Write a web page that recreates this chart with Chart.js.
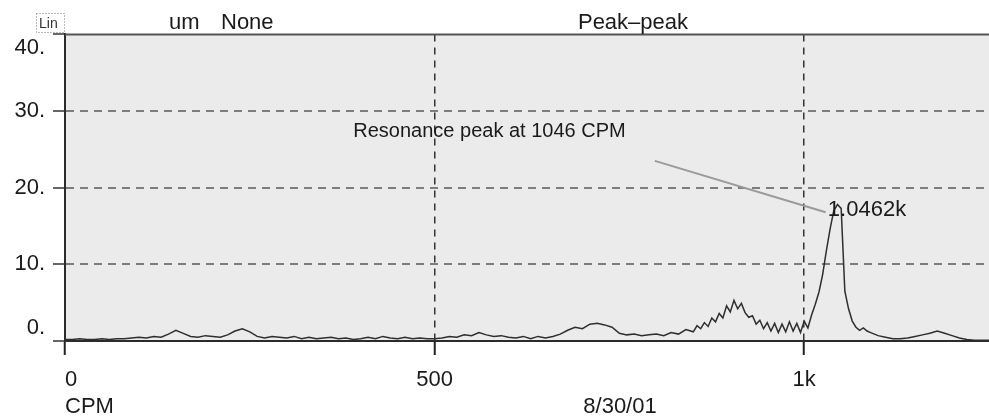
<!DOCTYPE html>
<html>
<head>
<meta charset="utf-8">
<script src="https://cdn.jsdelivr.net/npm/chart.js@4/dist/chart.umd.min.js"></script>
<style>
html, body { margin: 0; padding: 0; background: #fff; }
#wrap { width: 989px; height: 418px; }
</style>
</head>
<body>
<div id="wrap"><canvas id="spectrumChart" width="989" height="418"></canvas></div>
<script>
// spectrum values (CPM -> um peak-peak)
const cpm = [
    0, 10, 20, 30, 40, 50, 60, 70, 80, 90,
    100, 110, 120, 130, 140, 150, 160, 170, 180, 190,
    200, 210, 220, 230, 240, 250, 260, 270, 280, 290,
    300, 310, 320, 330, 340, 350, 360, 370, 380, 390,
    400, 410, 420, 430, 440, 450, 460, 470, 480, 490,
    500, 510, 520, 530, 540, 550, 560, 570, 580, 590,
    600, 610, 620, 630, 640, 650, 660, 670, 680, 690,
    700, 710, 720, 730, 740, 750, 760, 770, 780, 790,
    800, 810, 820, 830, 840,
    850, 855, 860, 865, 870, 875, 880, 885, 890, 895,
    900, 905, 910, 915, 920, 925, 930, 935, 940, 945,
    950, 955, 960, 965, 970, 975, 980, 985, 990, 995,
    1000, 1005, 1010, 1015, 1020, 1025, 1030, 1035, 1040, 1045,
    1050, 1055, 1060, 1065, 1070, 1075, 1080, 1085, 1090, 1095,
    1100,
    1110, 1120, 1130, 1140, 1150, 1160, 1170, 1180, 1190, 1200,
    1210, 1220, 1230, 1240, 1250
];
const amplitude = [
    0.2, 0.2, 0.3, 0.2, 0.2, 0.3, 0.2, 0.3, 0.3, 0.4,
    0.5, 0.4, 0.6, 0.5, 0.9, 1.4, 1.0, 0.6, 0.5, 0.7,
    0.6, 0.5, 0.8, 1.3, 1.6, 1.2, 0.6, 0.4, 0.6, 0.5,
    0.4, 0.6, 0.3, 0.5, 0.3, 0.4, 0.5, 0.3, 0.4, 0.2,
    0.3, 0.5, 0.3, 0.6, 0.4, 0.3, 0.5, 0.3, 0.4, 0.3,
    0.3, 0.4, 0.6, 0.5, 0.8, 0.7, 1.1, 0.8, 0.6, 0.7,
    0.5, 0.4, 0.6, 0.3, 0.6, 0.4, 0.6, 0.9, 1.4, 1.8,
    1.6, 2.2, 2.3, 2.1, 1.8, 1.0, 0.8, 0.9, 0.7, 0.8,
    0.9, 0.7, 1.1, 0.9, 1.5,
    1.2, 2.0, 1.6, 2.4, 1.9, 3.0, 2.5, 3.6, 3.0, 4.6,
    3.8, 5.3, 4.2, 4.9, 3.7, 3.1, 3.3, 2.2, 2.7, 1.6,
    2.4, 1.3, 2.3, 1.1, 2.2, 1.2, 2.5, 1.3, 2.3, 1.1,
    2.6, 1.7, 3.4, 4.8, 6.4, 8.7, 11.8, 14.6, 17.0, 17.8,
    17.3, 6.5, 4.2, 2.6, 1.8, 1.4, 1.7, 1.3, 1.1, 0.9,
    0.7,
    0.5, 0.3, 0.3, 0.4, 0.6, 0.8, 1.0, 1.3, 1.0, 0.7,
    0.4, 0.2, 0.1, 0.1, 0.1
];

const xTicks = [0, 500, 1000];
const xTickLabels = ['  0', '500', '1k'];
const yTicks = [0, 10, 20, 30, 40];
const yTickLabels = [['0.', ''], '10.', '20.', '30.', ['', '40.']];

const FONT = "'Liberation Sans', Arial, sans-serif";

// background, header texts and the resonance note
const decorations = {
    id: 'decorations',
    beforeDraw(chart) {
        const { ctx, chartArea } = chart;
        ctx.save();
        ctx.fillStyle = '#ebebeb';
        ctx.fillRect(chartArea.left, chartArea.top, chartArea.right - chartArea.left, chartArea.bottom - chartArea.top);
        ctx.restore();
    },
    afterDraw(chart) {
        const { ctx, chartArea } = chart;
        const xs = chart.scales.x;
        const ys = chart.scales.y;
        ctx.save();

        // top frame line
        ctx.strokeStyle = '#555';
        ctx.lineWidth = 2;
        ctx.beginPath();
        ctx.moveTo(chartArea.left, chartArea.top);
        ctx.lineTo(chartArea.right, chartArea.top);
        ctx.stroke();

        // "Lin" box
        ctx.setLineDash([1, 2]);
        ctx.lineWidth = 1;
        ctx.strokeStyle = '#777';
        ctx.strokeRect(36.5, 13.5, 28, 19);
        ctx.setLineDash([]);
        ctx.fillStyle = '#333';
        ctx.font = '14px ' + FONT;
        ctx.textBaseline = 'alphabetic';
        ctx.textAlign = 'left';
        ctx.fillText('Lin', 39, 28);

        ctx.fillStyle = '#1a1a1a';
        ctx.font = '22px ' + FONT;
        ctx.fillText('um', 169, 29);
        ctx.fillText('None', 221, 29);
        ctx.textAlign = 'center';
        ctx.fillText('Peak\u2013peak', 633, 29);

        // bottom captions
        ctx.textAlign = 'left';
        ctx.fillText('CPM', 65, 413);
        ctx.textAlign = 'center';
        ctx.fillText('8/30/01', 620, 413);

        // leader line to the peak
        ctx.strokeStyle = '#9a9a9a';
        ctx.lineWidth = 2;
        ctx.beginPath();
        ctx.moveTo(xs.getPixelForValue(798), ys.getPixelForValue(23.5));
        ctx.lineTo(xs.getPixelForValue(1029), ys.getPixelForValue(16.8));
        ctx.stroke();

        ctx.fillStyle = '#1a1a1a';
        ctx.textAlign = 'left';
        ctx.textBaseline = 'middle';
        ctx.font = '20px ' + FONT;
        ctx.fillText('Resonance peak at 1046 CPM', xs.getPixelForValue(390), ys.getPixelForValue(27.3));
        ctx.font = '22px ' + FONT;
        ctx.fillText('1.0462k', xs.getPixelForValue(1032), ys.getPixelForValue(17.1));

        ctx.restore();
    }
};

const transparent = 'rgba(0,0,0,0)';

new Chart(document.getElementById('spectrumChart'), {
    type: 'line',
    data: {
        datasets: [{
            data: cpm.map((c, i) => ({ x: c, y: amplitude[i] })),
            borderColor: '#2e2e2e',
            borderWidth: 1.5,
            pointRadius: 0,
            tension: 0,
            fill: false
        }]
    },
    options: {
        responsive: false,
        animation: false,
        devicePixelRatio: 1,
        layout: { padding: { top: 33, right: 0, left: 0, bottom: 0 } },
        plugins: {
            legend: { display: false },
            tooltip: { enabled: false }
        },
        scales: {
            x: {
                type: 'linear',
                min: 0,
                max: 1250,
                afterBuildTicks: scale => { scale.ticks = xTicks.map(v => ({ value: v })); },
                afterFit: scale => { scale.height = 77; },
                ticks: {
                    autoSkip: false,
                    maxRotation: 0,
                    padding: 12,
                    color: '#1a1a1a',
                    font: { family: FONT, size: 22 },
                    callback: (value, index) => xTickLabels[index]
                },
                grid: {
                    color: ctx => (ctx.tick && ctx.tick.value > 0) ? '#333' : transparent,
                    lineWidth: 1.5,
                    tickColor: '#222',
                    tickLength: 14,
                    tickWidth: 2
                },
                border: { display: true, color: '#2b2b2b', width: 2, dash: [7, 6] }
            },
            y: {
                min: 0,
                max: 40,
                afterBuildTicks: scale => { scale.ticks = yTicks.map(v => ({ value: v })); },
                afterFit: scale => { scale.width = 65; },
                ticks: {
                    autoSkip: false,
                    padding: 8,
                    color: '#1a1a1a',
                    font: { family: FONT, size: 22 },
                    callback: (value, index) => yTickLabels[index]
                },
                grid: {
                    color: ctx => (ctx.tick && ctx.tick.value > 0 && ctx.tick.value < 40) ? '#7d7d7d' : transparent,
                    lineWidth: 2,
                    tickColor: '#333',
                    tickLength: 12,
                    tickWidth: 1.5
                },
                border: { display: true, color: '#2b2b2b', width: 2, dash: [8, 6] }
            }
        }
    },
    plugins: [decorations]
});
</script>
</body>
</html>
